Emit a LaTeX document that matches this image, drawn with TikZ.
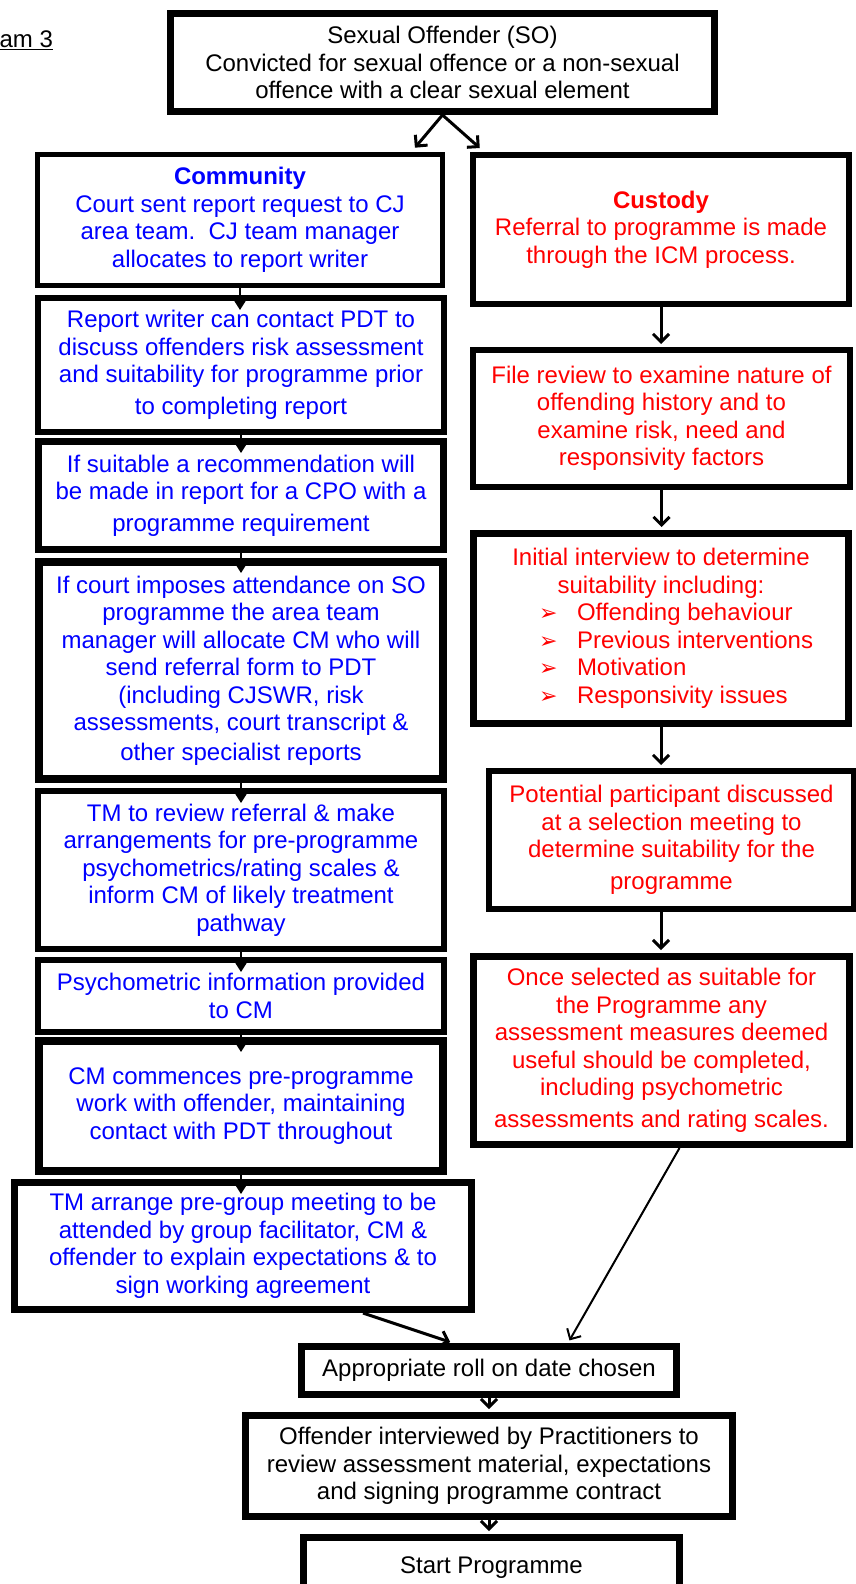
\documentclass[tikz,border=0pt]{standalone}
\usepackage{fontspec}
\setmainfont{Liberation Sans}
\newfontfamily\dingfont{DejaVu Sans}
\usepackage{xcolor}
\usepackage{tikz}
\usetikzlibrary{arrows.meta}
\definecolor{CommunityBlue}{HTML}{0000FF}
\definecolor{CustodyRed}{HTML}{FF0000}
\newcommand{\bulletline}[1]{\makebox[300pt][l]{\hspace*{28pt}\makebox[38pt][l]{\fontsize{22}{27}\dingfont ➢}#1}}
\tikzset{
  stagebox/.style={draw=black, line width=6pt, fill=white, inner sep=2pt,
                   align=center, text=black, font=\fontsize{24}{27.5}\selectfont},
  commbox/.style={stagebox, text=CommunityBlue},
  custbox/.style={stagebox, text=CustodyRed},
  flowarrow/.style={draw=black, line width=3pt, shorten >=3pt,
                    -{Straight Barb[length=8pt,width=16pt]}},
  droparrow/.style={draw=black, line width=2pt, shorten >=-15pt,
                    -{Triangle[length=13pt,width=16pt]}},
}

\begin{document}
\begin{tikzpicture}[x=1pt, y=-1pt]
      \useasboundingbox (0,0) rectangle (855,1584);
      \node[anchor=base west, font=\fontsize{24}{28}\selectfont] (title) at (-4,48) {\underline{am 3}};

      \node[stagebox, line width=7pt, minimum width=544pt, minimum height=98pt] (so) at (442.5,62.5) {%
        Sexual Offender (SO)\\
        Convicted for sexual offence or a non-sexual\\
        offence with a clear sexual element};

      % community route
      \node[commbox, line width=5pt, minimum width=405pt, minimum height=131pt] (comm) at (240,220) {%
        \textbf{Community}\\
        Court sent report request to CJ\\
        area team.\ \ CJ team manager\\
        allocates to report writer};
      \node[commbox, minimum width=406pt, minimum height=134pt] (rw) at (241,365) {%
        Report writer can contact PDT to\\
        discuss offenders risk assessment\\
        and suitability for programme prior\\[4pt]
        to completing report};
      \node[commbox, line width=7pt, minimum width=405pt, minimum height=108pt] (suit) at (241,495.5) {%
        If suitable a recommendation will\\
        be made in report for a CPO with a\\[4pt]
        programme requirement};
      \node[commbox, line width=8pt, minimum width=404pt, minimum height=217pt] (court) at (241,670.5) {%
        If court imposes attendance on SO\\
        programme the area team\\
        manager will allocate CM who will\\
        send referral form to PDT\\
        (including CJSWR, risk\\
        assessments, court transcript \&\\[2pt]
        other specialist reports};
      \node[commbox, minimum width=406pt, minimum height=158pt] (tmrev) at (241,870) {%
        TM to review referral \& make\\
        arrangements for pre-programme\\
        psychometrics/rating scales \&\\
        inform CM of likely treatment\\
        pathway};
      \node[commbox, minimum width=406pt, minimum height=72pt] (psych) at (241,996) {%
        Psychometric information provided\\
        to CM};
      \node[commbox, line width=8pt, minimum width=404pt, minimum height=130pt] (cmwork) at (241,1106) {%
        CM commences pre-programme\\
        work with offender, maintaining\\
        contact with PDT throughout};
      \node[commbox, line width=7pt, minimum width=457pt, minimum height=127pt] (tmarr) at (243,1246) {%
        TM arrange pre-group meeting to be\\
        attended by group facilitator, CM \&\\
        offender to explain expectations \& to\\
        sign working agreement};

      % custody route
      \node[custbox, minimum width=376pt, minimum height=149pt] (cust) at (661,229.5) {%
        \textbf{Custody}\\
        Referral to programme is made\\
        through the ICM process.};
      \node[custbox, minimum width=377pt, minimum height=137pt] (file) at (661.5,418.5) {%
        File review to examine nature of\\
        offending history and to\\
        examine risk, need and\\
        responsivity factors};
      \node[custbox, line width=7pt, minimum width=375pt, minimum height=190pt] (intv) at (661,628.5) {%
        Initial interview to determine\\
        suitability including:\\
        \bulletline{Offending behaviour}\\
        \bulletline{Previous interventions}\\
        \bulletline{Motivation}\\
        \bulletline{Responsivity issues}};
      \node[custbox, minimum width=365pt, minimum height=138pt] (sel) at (671.5,840) {%
        Potential participant discussed\\
        at a selection meeting to\\
        determine suitability for the\\[4pt]
        programme};
      \node[custbox, line width=7pt, minimum width=376pt, minimum height=188pt] (once) at (661.5,1050.5) {%
        Once selected as suitable for\\
        the Programme any\\
        assessment measures deemed\\
        useful should be completed,\\
        including psychometric\\[4pt]
        assessments and rating scales.};

      % joint route
      \node[stagebox, line width=7pt, minimum width=375pt, minimum height=48pt] (roll) at (489,1370.5) {%
        Appropriate roll on date chosen};
      \node[stagebox, line width=7pt, minimum width=487pt, minimum height=101pt] (offint) at (489,1466) {%
        Offender interviewed by Practitioners to\\
        review assessment material, expectations\\
        and signing programme contract};
      \node[stagebox, line width=7pt, minimum width=376pt, minimum height=61pt] (start) at (491.5,1568) {%
        Start Programme};

      \draw[flowarrow] (so.south) -- ([xshift=-32pt,yshift=2pt]comm.north east);
      \draw[flowarrow] (so.south) -- ([xshift=12pt,yshift=2pt]cust.north west);

      \draw[droparrow] (comm.south) -- (comm.south |- rw.north);
      \draw[droparrow] (rw.south) -- (rw.south |- suit.north);
      \draw[droparrow] (suit.south) -- (suit.south |- court.north);
      \draw[droparrow] (court.south) -- (court.south |- tmrev.north);
      \draw[droparrow] (tmrev.south) -- (tmrev.south |- psych.north);
      \draw[droparrow] (psych.south) -- (psych.south |- cmwork.north);
      \draw[droparrow] (cmwork.south) -- (cmwork.south |- tmarr.north);

      \draw[flowarrow] (cust.south) -- (cust.south |- file.north);
      \draw[flowarrow] (file.south) -- (file.south |- intv.north);
      \draw[flowarrow] (intv.south) -- (intv.south |- sel.north);
      \draw[flowarrow] (intv.south |- sel.south) -- (intv.south |- once.north);

      \draw[flowarrow] ([xshift=120pt]tmarr.south) -- ([xshift=-36pt]roll.north);
      \draw[flowarrow, line width=2pt] ([xshift=18pt]once.south) -- ([xshift=79pt]roll.north);
      \draw[flowarrow] (roll.south) -- (roll.south |- offint.north);
      \draw[flowarrow] (offint.south) -- (offint.south |- start.north);
    \end{tikzpicture}
\end{document}
